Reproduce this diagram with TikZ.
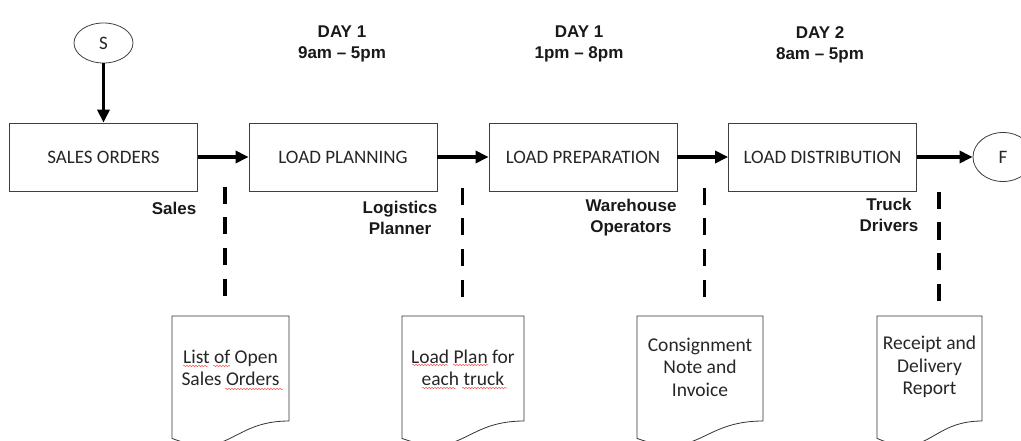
\documentclass[tikz,border=0pt]{standalone}
\usepackage{fontspec}
\setmainfont{Carlito}
\newfontfamily\lblfont{Liberation Sans}
\usetikzlibrary{arrows.meta,shapes.geometric,decorations.pathmorphing}
\newcommand\docshape[3]{%
  \draw[docline] (#1,#2) -- (#1+#3,#2) -- (#1+#3,#2+105)
    .. controls (#1+#3/2,#2+105) and (#1+#3/2,#2+145) .. (#1,#2+122.4) -- cycle;}
\newcommand\squig[3]{\draw[squiggle] (#1,#3) -- (#2,#3);}
\begin{document}
\begin{tikzpicture}[x=1pt,y=-1pt,
  proc/.style={draw=black!75, line width=0.8pt, minimum width=188pt, minimum height=68pt,
    font=\fontsize{19}{22}\selectfont, text=black!85, inner sep=0pt},
  term/.style={draw=black!75, line width=0.8pt, ellipse, inner sep=0pt,
    font=\fontsize{19}{22}\selectfont, text=black!85},
  flow/.style={line width=3.6pt, -{Triangle[length=13pt,width=12pt]}},
  swim/.style={line width=3.6pt, dash pattern=on 17pt off 13.5pt},
  role/.style={font=\lblfont\bfseries\fontsize{17}{21}\selectfont, align=center, inner sep=0pt, text=black!90},
  doctext/.style={font=\fontsize{19.5}{22.5}\selectfont, align=center, inner sep=0pt, text=black!85},
  docline/.style={draw=black!80, line width=0.8pt},
  squiggle/.style={draw=red!65, line width=0.5pt, decorate,
    decoration={snake, amplitude=0.7pt, segment length=3pt}}
]
\useasboundingbox (0,0) rectangle (1021,441);

% terminals
\node[term, minimum width=59pt, minimum height=40pt] (S) at (103.5,43) {S};
\node[term, minimum width=60pt, minimum height=49pt] (F) at (1003,157) {F};

% process boxes
\node[proc] (b1) at (103.5,157) {SALES ORDERS};
\node[proc] (b2) at (343,157) {LOAD PLANNING};
\node[proc] (b3) at (583,157) {LOAD PREPARATION};
\node[proc] (b4) at (822.5,157) {LOAD DISTRIBUTION};

% flow arrows
\draw[flow] (S) -- (b1);
\draw[flow] (b1) -- (b2);
\draw[flow] (b2) -- (b3);
\draw[flow] (b3) -- (b4);
\draw[flow] (b4) -- (F);

% day labels
\node[role] (d1) at (342,44) {DAY 1\\9am – 5pm};
\node[role] (d2) at (579,44) {DAY 1\\1pm – 8pm};
\node[role] (d3) at (820,44.5) {DAY 2\\8am – 5pm};

% role labels
\node[role, anchor=east] (r1) at (196.5,208) {Sales};
\node[role] (r2) at (400,218) {Logistics\\Planner};
\node[role] (r3) at (631,218) {Warehouse\\Operators};
\node[role] (r4) at (889,215) {Truck\\Drivers};

% swimlane dashed separators
\coordinate (v1a) at (225,187);   \coordinate (v1b) at (225,297);
\coordinate (v2a) at (462.5,188); \coordinate (v2b) at (462.5,298);
\coordinate (v3a) at (704.5,188); \coordinate (v3b) at (704.5,298);
\coordinate (v4a) at (939,192);   \coordinate (v4b) at (939,302);
\draw[swim] (v1a) -- (v1b);
\draw[swim] (v2a) -- (v2b);
\draw[swim] (v3a) -- (v3b);
\draw[swim] (v4a) -- (v4b);

% documents
\docshape{172}{316}{117}
\docshape{402}{316}{122}
\docshape{637}{316}{126}
\docshape{877}{316}{105}
\node[doctext] (t1) at (230.5,368) {List of Open\\Sales Orders};
\node[doctext] (t2) at (463,368) {Load Plan for\\each truck};
\node[doctext] (t3) at (700,367) {Consignment\\Note and\\Invoice};
\node[doctext] (t4) at (929.5,367) {Receipt and\\Delivery\\Report};

% spell-check squiggles
\squig{183}{208}{366}
\squig{213}{230}{366}
\squig{225}{283}{389}
\squig{412}{448}{365}
\squig{453}{488}{365}
\squig{422}{456}{388}
\squig{462}{507}{388}
\end{tikzpicture}
\end{document}
